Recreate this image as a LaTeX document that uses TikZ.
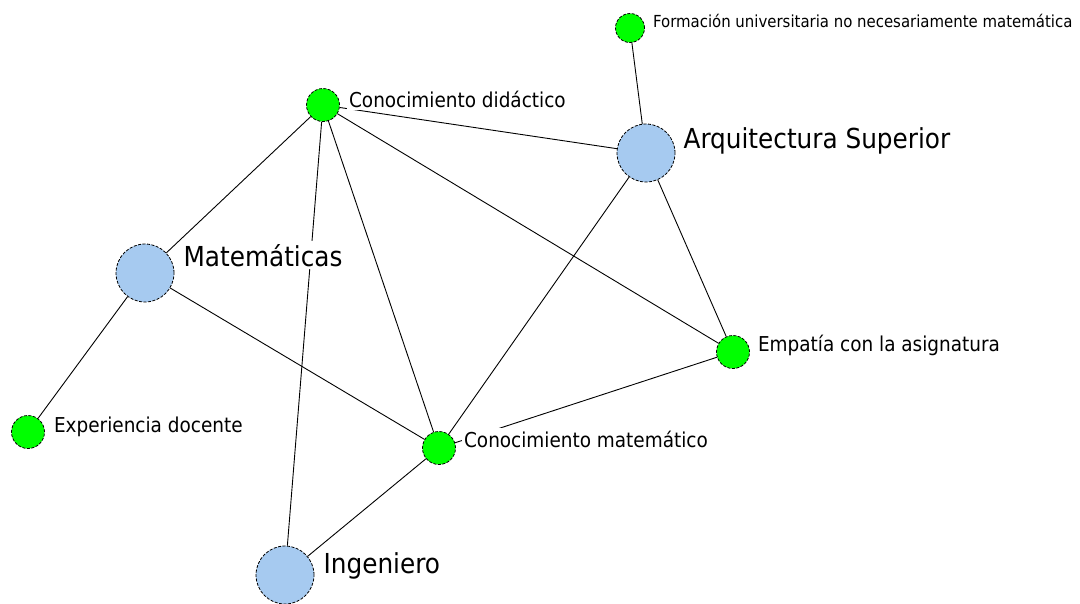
\documentclass[tikz,border=0pt]{standalone}
\usepackage{fontspec}
\setmainfont{DejaVu Sans Condensed}
\usepackage{xcolor}
\usepackage{tikz}
\usetikzlibrary{positioning}
\definecolor{itemgreen}{RGB}{0,255,0}
\definecolor{areablue}{RGB}{166,202,240}
\pgfdeclarelayer{back}
\pgfdeclarelayer{edges}
\pgfsetlayers{back,edges,main}

\begin{document}
\begin{tikzpicture}[x=1pt, y=-1pt,
    item/.style={circle, draw, line width=0.8pt, dash pattern=on 3pt off 1.5pt, fill=itemgreen, minimum size=33pt, inner sep=0pt},
    area/.style={item, fill=areablue, minimum size=58pt},
    lbl/.style={fill=white, inner xsep=2pt, inner ysep=3pt, anchor=base west, font=\fontsize{20.5}{22}\selectfont},
    biglbl/.style={lbl, font=\fontsize{27.5}{30}\selectfont},
    link/.style={line width=0.9pt}]
    \useasboundingbox (0,0) rectangle (1080,603);
    \begin{pgfonlayer}{back}
        \fill[white] (0,0) rectangle (1080,603);
    \end{pgfonlayer}

    % nodes
    \node[item, minimum size=29pt] (form) at (630,28) {};
    \node[item] (did) at (323,105) {};
    \node[area] (arq) at (646,153) {};
    \node[area] (mat) at (145,273) {};
    \node[item] (emp) at (733,352) {};
    \node[item] (exp) at (28,432) {};
    \node[item] (cm) at (439,448) {};
    \node[area] (ing) at (285,575) {};

    % labels
    \node[lbl, font=\fontsize{16.6}{18}\selectfont] (forml) at ([xshift=6pt, yshift=1pt]form.east) {Formación universitaria no necesariamente matemática};
    \node[lbl] (didl) at ([xshift=7pt, yshift=-2pt]did.east) {Conocimiento didáctico};
    \node[biglbl] (arql) at ([xshift=6pt, yshift=5pt]arq.east) {Arquitectura Superior};
    \node[biglbl] (matl) at ([xshift=7pt, yshift=7pt]mat.east) {Matemáticas};
    \node[lbl] (empl) at ([xshift=6pt, yshift=1pt]emp.east) {Empatía con la asignatura};
    \node[lbl] (expl) at ([xshift=7pt]exp.east) {Experiencia docente};
    \node[lbl] (cml) at ([xshift=6pt, yshift=1pt]cm.east) {Conocimiento matemático};
    \node[biglbl] (ingl) at ([xshift=7pt, yshift=2pt]ing.east) {Ingeniero};

    % links
    \begin{pgfonlayer}{edges}
        \draw[link] (form) -- (arq);
        \draw[link] (did) -- (arq);
        \draw[link] (did) -- (mat);
        \draw[link] (did) -- (ing);
        \draw[link] (did) -- (cm);
        \draw[link] (did) -- (emp);
        \draw[link] (arq) -- (emp);
        \draw[link] (arq) -- (cm);
        \draw[link] (mat) -- (cm);
        \draw[link] (mat) -- (exp);
        \draw[link] (emp) -- (cm);
        \draw[link] (cm) -- (ing);
    \end{pgfonlayer}
\end{tikzpicture}
\end{document}
